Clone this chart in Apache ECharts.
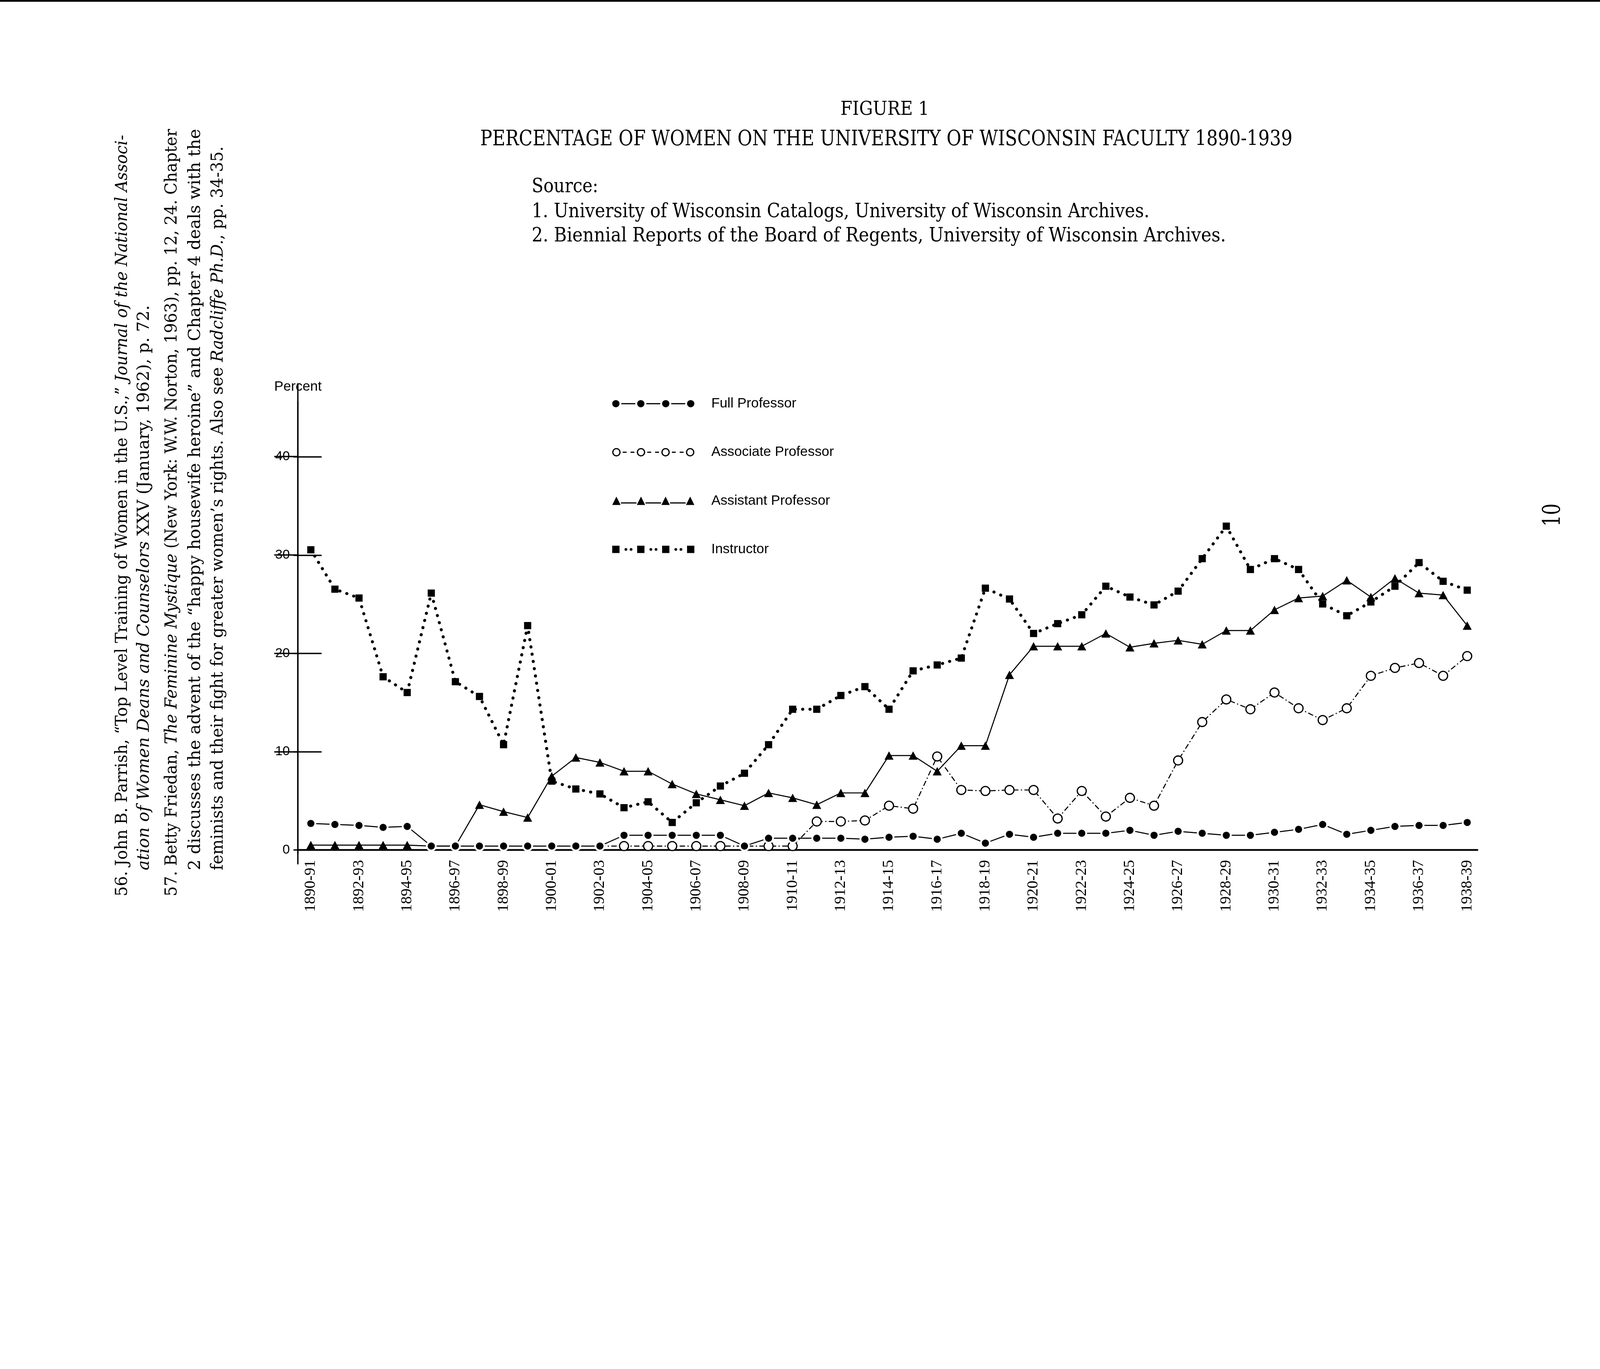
<!DOCTYPE html>
<html>
<head>
<meta charset="utf-8">
<script src="https://cdn.jsdelivr.net/npm/echarts@6/dist/echarts.min.js"></script>
<style>
html,body{margin:0;padding:0;background:#fff;overflow:hidden;}
#chart{position:absolute;left:0;top:0;}
</style>
</head>
<body>
<div id="chart"></div>
<script>
// ---------------- data ----------------
const years = ['1890-91','1891-92','1892-93','1893-94','1894-95','1895-96','1896-97','1897-98','1898-99','1899-00',
  '1900-01','1901-02','1902-03','1903-04','1904-05','1905-06','1906-07','1907-08','1908-09','1909-10',
  '1910-11','1911-12','1912-13','1913-14','1914-15','1915-16','1916-17','1917-18','1918-19','1919-20',
  '1920-21','1921-22','1922-23','1923-24','1924-25','1925-26','1926-27','1927-28','1928-29','1929-30',
  '1930-31','1931-32','1932-33','1933-34','1934-35','1935-36','1936-37','1937-38','1938-39'];

const fullProfessor = [2.7,2.6,2.5,2.3,2.4, 0.4,0.4,0.4,0.4,0.4, 0.4,0.4,0.4, 1.5,1.5,1.5,1.5,1.5, 0.4,
  1.2,1.2,1.2,1.2,1.1, 1.3,1.4,1.1,1.7,0.7, 1.6,1.3,1.7,1.7,1.7, 2.0,1.5,1.9,1.7,1.5,
  1.5,1.8,2.1,2.6,1.6, 2.0,2.4,2.5,2.5,2.8];

const associateProfessor = [null,null,null,null,null,null,null,null,null,null,null,null,
  0.4,0.4,0.4,0.4,0.4,0.4,0.4,0.4,0.4,
  2.9,2.9,3.0,4.5,4.2,9.5,6.1,6.0,6.1,6.1,3.2,6.0,3.4,5.3,4.5,9.1,13.0,15.3,14.3,16.0,
  14.4,13.2,14.4,17.7,18.5,19.0,17.7,19.7];

const assistantProfessor = [0.5,0.5,0.5,0.5,0.5, 0.4,0.4,4.6,3.9,3.3, 7.5,9.4,8.9,8.0,8.0,
  6.7,5.7,5.1,4.5,5.8, 5.3,4.6,5.8,5.8,9.6, 9.6,8.0,10.6,10.6,17.8, 20.7,20.7,20.7,22.0,20.6,
  21.0,21.3,20.9,22.3,22.3, 24.4,25.6,25.8,27.4,25.7, 27.6,26.1,25.9,22.8];

const instructor = [30.5,26.5,25.6,17.6,16.0, 26.1,17.1,15.6,10.7,22.8, 7.0,6.2,5.7,4.3,4.9,
  2.8,4.8,6.5,7.8,10.7, 14.3,14.3,15.7,16.6,14.3, 18.2,18.8,19.5,26.6,25.5,
  22.0,23.0,23.9,26.8,25.7, 24.9,26.3,29.6,32.9,28.5, 29.6,28.5,25.0,23.8,25.2, 26.8,29.2,27.3,26.4];

const yLabelValues = [0, 10, 20, 30, 40];
const yTickValues = [10, 20, 30, 40];
const yStubValues = [0, 10, 20, 30, 40];

const seriesNames = ['Full Professor', 'Associate Professor', 'Assistant Professor', 'Instructor'];

const titleLines = ['FIGURE 1', 'PERCENTAGE OF WOMEN ON THE UNIVERSITY OF WISCONSIN FACULTY 1890-1939'];
const sourceLines = ['Source:',
  '1. University of Wisconsin Catalogs, University of Wisconsin Archives.',
  '2. Biennial Reports of the Board of Regents, University of Wisconsin Archives.'];
const footnoteLines = [
  [['56. John B. Parrish, \u201CTop Level Training of Women in the U.S.,\u201D ', false], ['Journal of the National Associ-', true]],
  [['ation of Women Deans and Counselors', true], [' XXV (January, 1962), p. 72.', false]],
  [['57. Betty Friedan, ', false], ['The Feminine Mystique', true], [' (New York: W.W. Norton, 1963), pp. 12, 24. Chapter', false]],
  [['2 discusses the advent of the \u201Chappy housewife heroine\u201D and Chapter 4 deals with the', false]],
  [['feminists and their fight for greater women\u2019s rights. Also see ', false], ['Radcliffe Ph.D.', true], [', pp. 34-35.', false]]
];
const pageNumber = '10';

// ---------------- page scale (design is 5338 x 3504) ----------------
const W0 = 5338, H0 = 3504;
const S = Math.min(window.innerWidth / W0, window.innerHeight / H0) || 1;
const u = v => v * S;
const dom = document.getElementById('chart');
dom.style.width = (W0 * S) + 'px';
dom.style.height = (H0 * S) + 'px';

// ---------------- helpers ----------------
const SERIF = 'DejaVu Serif';
const mctx = document.createElement('canvas').getContext('2d');
function measure(parts, size, family) {
  let w = 0;
  parts.forEach(p => {
    mctx.font = (p[1] ? 'italic ' : '') + size + 'px "' + family + '"';
    w += mctx.measureText(p[0]).width;
  });
  return w;
}
function fitText(text, x, y, size, targetW, align) {
  const fs = u(size);
  const w = measure([[text, false]], fs, SERIF);
  return {
    type: 'text', x: u(x), y: u(y), scaleX: u(targetW) / w, silent: true,
    style: { text: text, fontFamily: SERIF, fontSize: fs, fill: '#000', align: align || 'left', verticalAlign: 'middle' }
  };
}
function fitRotated(parts, x, yStart, yEnd, size) {
  const fs = u(size);
  const w = measure(parts, fs, SERIF);
  let txt = '';
  parts.forEach(p => { txt += '{' + (p[1] ? 'i' : 'n') + '|' + p[0] + '}'; });
  return {
    type: 'text', x: u(x), y: u(yStart), rotation: Math.PI / 2, scaleX: u(yStart - yEnd) / w, silent: true,
    style: {
      text: txt, fill: '#000', align: 'left', verticalAlign: 'middle',
      rich: {
        n: { fontFamily: SERIF, fontSize: fs, fill: '#000' },
        i: { fontFamily: SERIF, fontSize: fs, fontStyle: 'italic', fill: '#000' }
      }
    }
  };
}
function circ(cx, cy, r, rev) {
  const s = rev ? 1 : 0;
  return 'M' + (cx - r) + ' ' + cy + 'A' + r + ' ' + r + ' 0 1 ' + s + ' ' + (cx + r) + ' ' + cy +
         'A' + r + ' ' + r + ' 0 1 ' + s + ' ' + (cx - r) + ' ' + cy + 'Z';
}
function rect(x0, y0, x1, y1) {
  return 'M' + x0 + ' ' + y0 + 'L' + x1 + ' ' + y0 + 'L' + x1 + ' ' + y1 + 'L' + x0 + ' ' + y1 + 'Z';
}
const centers = [14, 96, 178, 260];
function iconFull() {
  let p = '';
  centers.forEach((c, i) => { p += circ(c, 14, 12, false); if (i < 3) p += rect(c + 18, 12, c + 64, 16); });
  return 'path://' + p;
}
function iconAssoc() {
  let p = '';
  centers.forEach((c, i) => {
    p += circ(c, 14, 14, false) + circ(c, 14, 10, true);
    if (i < 3) { p += rect(c + 21, 12, c + 34, 16) + rect(c + 47, 12, c + 60, 16); }
  });
  return 'path://' + p;
}
function iconAssist() {
  let p = '';
  centers.forEach((c, i) => {
    p += 'M' + (c - 14) + ' 28L' + (c + 14) + ' 28L' + c + ' 0Z';
    if (i < 3) p += rect(c + 15, 19, c + 67, 23);
  });
  return 'path://' + p;
}
function iconInstr() {
  let p = '';
  centers.forEach((c, i) => {
    p += rect(c - 12, 2, c + 12, 26);
    if (i < 3) { p += circ(c + 33, 14, 4.5, false) + circ(c + 50, 14, 4.5, false); }
  });
  return 'path://' + p;
}

// ---------------- chart ----------------
const chart = echarts.init(dom, null, { renderer: 'canvas' });

const graphics = [
  { type: 'rect', shape: { x: 0, y: 0, width: u(W0), height: u(6) }, style: { fill: '#000' }, silent: true },
  fitText(titleLines[0], 2952, 366, 64, 296, 'center'),
  fitText(titleLines[1], 2957, 466, 70, 2710, 'center'),
  fitText(sourceLines[0], 1774, 624, 66, 222, 'left'),
  fitText(sourceLines[1], 1774, 707, 66, 2061, 'left'),
  fitText(sourceLines[2], 1774, 788, 66, 2316, 'left'),
  fitRotated(footnoteLines[0], 409, 2990, 450, 57),
  fitRotated(footnoteLines[1], 482, 2903, 1018, 57),
  fitRotated(footnoteLines[2], 574, 2990, 430, 57),
  fitRotated(footnoteLines[3], 652, 2903, 430, 57),
  fitRotated(footnoteLines[4], 728, 2903, 488, 57)
];
(function () {
  const fs = u(80);
  const w = measure([[pageNumber, false]], fs, SERIF);
  graphics.push({
    type: 'text', x: u(5183), y: u(1718), rotation: Math.PI / 2, scaleX: u(77) / w, silent: true,
    style: { text: pageNumber, fontFamily: SERIF, fontSize: fs, fill: '#000', align: 'center', verticalAlign: 'middle' }
  });
})();

const option = {
  backgroundColor: '#fff',
  animation: false,
  grid: [
    { left: u(994), right: u(409), top: u(1340), bottom: u(623), containLabel: false },   // frame (left axis + baseline)
    { left: u(994), right: u(409), top: u(1280), bottom: u(656), containLabel: false },   // right axis
    { left: u(1037), right: u(443), top: u(1522), bottom: u(669), containLabel: false }   // data
  ],
  xAxis: [
    { type: 'value', gridIndex: 0, min: 0, max: 1,
      axisLine: { show: true, onZero: true, onZeroAxisIndex: 0, lineStyle: { color: '#000', width: u(6) } },
      axisTick: { show: false }, axisLabel: { show: false }, splitLine: { show: false } },
    { type: 'value', gridIndex: 1, min: 0, max: 1, show: false },
    { type: 'category', gridIndex: 2, data: years, boundaryGap: false,
      axisLine: { show: false }, axisTick: { show: false }, splitLine: { show: false },
      axisLabel: { interval: 1, rotate: 90, margin: u(33), fontFamily: 'Liberation Serif', fontSize: u(52), color: '#000' } }
  ],
  yAxis: [
    { type: 'value', gridIndex: 0, position: 'left', min: -1.4, max: 45.6,
      name: 'Percent', nameLocation: 'end', nameGap: u(50),
      nameTextStyle: { fontFamily: 'Liberation Sans', fontSize: u(46), color: '#000', align: 'center', verticalAlign: 'middle' },
      axisLine: { show: true, lineStyle: { color: '#000', width: u(4.5) } },
      axisTick: { show: true, inside: true, length: u(79), customValues: yTickValues, lineStyle: { color: '#000', width: u(4.5) } },
      axisLabel: { show: true, customValues: yLabelValues, margin: u(27), fontFamily: 'Liberation Sans', fontSize: u(44), color: '#000' },
      splitLine: { show: false } },
    { type: 'value', gridIndex: 0, position: 'left', min: -1.4, max: 45.6,
      axisLine: { show: false },
      axisTick: { show: true, inside: false, length: u(15), customValues: yStubValues, lineStyle: { color: '#000', width: u(4.5) } },
      axisLabel: { show: false }, splitLine: { show: false } },
    { type: 'value', gridIndex: 1, position: 'right', min: -0.4, max: 47.4,
      axisLine: { show: true, lineStyle: { color: '#000', width: u(4.5) } },
      axisTick: { show: true, inside: true, length: u(79), customValues: yTickValues, lineStyle: { color: '#000', width: u(4.5) } },
      axisLabel: { show: false }, splitLine: { show: false } },
    { type: 'value', gridIndex: 2, min: 0, max: 40, show: false, splitLine: { show: false } }
  ],
  legend: {
    orient: 'vertical', left: u(2036), top: u(1317),
    itemWidth: u(274), itemHeight: u(46), itemGap: u(116),
    selectedMode: false, symbolKeepAspect: true,
    textStyle: { fontFamily: 'Liberation Sans', fontSize: u(46), color: '#000', lineHeight: u(46), padding: [0, 0, 0, u(50)] },
    data: [
      { name: seriesNames[0], icon: iconFull(), itemStyle: { color: '#000', borderWidth: 0 } },
      { name: seriesNames[1], icon: iconAssoc(), itemStyle: { color: '#000', borderWidth: 0 } },
      { name: seriesNames[2], icon: iconAssist(), itemStyle: { color: '#000', borderWidth: 0 } },
      { name: seriesNames[3], icon: iconInstr(), itemStyle: { color: '#000', borderWidth: 0 } }
    ]
  },
  graphic: graphics,
  series: [
    { name: seriesNames[1], type: 'line', xAxisIndex: 2, yAxisIndex: 3, data: associateProfessor,
      symbol: 'circle', symbolSize: u(30), showAllSymbol: true, clip: false, silent: true, z: 2,
      itemStyle: { color: '#fff', borderColor: '#000', borderWidth: u(4) },
      lineStyle: { color: '#000', width: u(3.5), type: [u(18), u(8), u(4), u(8)] },
      emphasis: { disabled: true } },
    { name: seriesNames[2], type: 'line', xAxisIndex: 2, yAxisIndex: 3, data: assistantProfessor,
      symbol: 'triangle', symbolSize: [u(30), u(28)], showAllSymbol: true, clip: false, silent: true, z: 3,
      itemStyle: { color: '#000' },
      lineStyle: { color: '#000', width: u(3.5) },
      emphasis: { disabled: true } },
    { name: seriesNames[3], type: 'line', xAxisIndex: 2, yAxisIndex: 3, data: instructor,
      symbol: 'rect', symbolSize: u(24), showAllSymbol: true, clip: false, silent: true, z: 4,
      itemStyle: { color: '#000' },
      lineStyle: { color: '#000', width: u(10), type: [u(0.5), u(24)], cap: 'round' },
      emphasis: { disabled: true } },
    { name: seriesNames[0], type: 'line', xAxisIndex: 2, yAxisIndex: 3, data: fullProfessor,
      symbol: 'circle', symbolSize: u(30), showAllSymbol: true, clip: false, silent: true, z: 5,
      itemStyle: { color: '#000', borderColor: '#fff', borderWidth: u(6) },
      lineStyle: { color: '#000', width: u(3.5) },
      emphasis: { disabled: true } }
  ]
};
chart.setOption(option);
window.addEventListener('resize', () => chart.resize());
</script>
</body>
</html>
